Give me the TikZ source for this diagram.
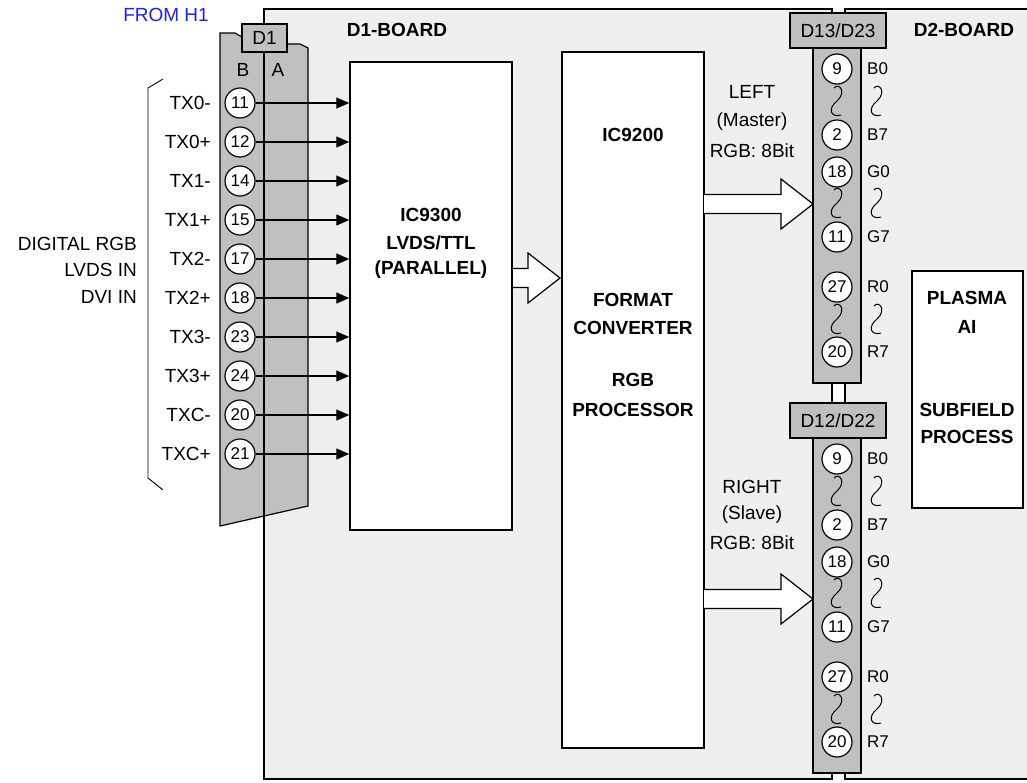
\documentclass[tikz,border=0pt]{standalone}
\usepackage{fontspec}
\setmainfont{Liberation Sans}
\usetikzlibrary{arrows.meta}
\definecolor{BoardGray}{HTML}{EFEFEF}
\definecolor{PlugGray}{HTML}{C0C0C0}
\definecolor{HOneBlue}{HTML}{1E1EFF}

% vertical wave mark between pins
\newcommand{\squig}[2]{\draw[line width=1pt] (#1-3,#2-13) .. controls (#1+2,#2-19) and (#1+10,#2-9) .. (#1,#2) .. controls (#1-10,#2+8) and (#1-6,#2+17) .. (#1+4,#2+14);}
% hollow block arrow: tail x, tip x, centre y
\newcommand{\hollowarrow}[3]{\draw[line width=1.2pt, fill=white] (#1,#3-9.5) -- (#2-32,#3-9.5) -- (#2-32,#3-25) -- (#2,#3) -- (#2-32,#3+25) -- (#2-32,#3+9.5) -- (#1,#3+9.5);}

\begin{document}
\begin{tikzpicture}[x=1pt, y=-1pt, >={Triangle[length=13pt,width=11pt]},
    txt/.style={font=\fontsize{19}{21}\selectfont, inner sep=0pt},
    btxt/.style={font=\fontsize{19}{21}\selectfont\bfseries, inner sep=0pt},
    pin/.style={circle, draw, line width=1.2pt, fill=white, minimum size=30pt, inner sep=0pt, font=\fontsize{17}{17}\selectfont},
    pinlbl/.style={font=\fontsize{17}{17}\selectfont, inner sep=0pt, anchor=west},
    chip/.style={draw, line width=1.5pt, fill=white, inner sep=0pt},
    plug/.style={draw, line width=1.2pt, fill=PlugGray}]

    \useasboundingbox (0,0) rectangle (1027,782);
    \fill[white] (0,0) rectangle (1027,782);

    % Board backgrounds
    \fill[BoardGray] (264,9) rectangle (832,779);
    \fill[BoardGray] (845,9) rectangle (1040,779);

    % D1 plug (from H1)
    \draw[plug] (220,33) -- (235,33) -- (242,37) -- (242,44) -- (300,44) -- (308,48) -- (308,506) -- (220,526) -- cycle;

    % Board outlines
    \draw[line width=2.5pt] (264,9) rectangle (832,779);
    \draw[line width=2.5pt] (1040,9) -- (845,9) -- (845,779) -- (1040,779);

    % D1 plug label and columns
    \node[plug, minimum width=45pt, minimum height=28pt, inner sep=0pt, txt] (d1box) at (264.5,38) {D1};
    \node[txt] (colB) at (243,70) {B};
    \node[txt] (colA) at (278,70) {A};
    \node[txt, text=HOneBlue] (fromh1) at (166,15) {FROM H1};

    % Board titles
    \node[btxt] (d1title) at (397,30) {D1-BOARD};
    \node[btxt] (d2title) at (964,30) {D2-BOARD};

    % Input bracket and label
    \draw[line width=0.9pt] (163,79) -- (148,88) -- (148,478) -- (163,490);
    \node[txt, anchor=east] (dig) at (137,244) {DIGITAL RGB};
    \node[txt, anchor=east] (lvds) at (137,270) {LVDS IN};
    \node[txt, anchor=east] (dvi) at (137,297) {DVI IN};

    % IC9300
    \node[chip, minimum width=162pt, minimum height=468pt] (ic93) at (431,296) {};
    \node[btxt] (ic93a) at (431,215) {IC9300};
    \node[btxt] (ic93b) at (431,243) {LVDS/TTL};
    \node[btxt] (ic93c) at (431,270) {(PARALLEL)};

    % LVDS input pins
    \foreach \n/\t [count=\i from 0] in {11/TX0-, 12/TX0+, 14/TX1-, 15/TX1+, 17/TX2-, 18/TX2+, 23/TX3-, 24/TX3+, 20/TXC-, 21/TXC+} {
        \node[pin] (inp\i) at (240,103+39*\i) {\n};
        \node[txt, anchor=east] (inl\i) at (211,103+39*\i) {\t};
        \draw[->, line width=1.2pt] (inp\i.east) -- (ic93.west |- inp\i);
    }

    % IC9200
    \node[chip, minimum width=142pt, minimum height=696pt] (ic92) at (633,400) {};
    \node[btxt] (ic92a) at (633,135) {IC9200};
    \node[btxt] (ic92b) at (633,300) {FORMAT};
    \node[btxt] (ic92c) at (633,328) {CONVERTER};
    \node[btxt] (ic92d) at (633,380) {RGB};
    \node[btxt] (ic92e) at (633,410) {PROCESSOR};

    % Block arrows
    \hollowarrow{513}{560}{278}
    \hollowarrow{704}{813}{204}
    \hollowarrow{704}{813}{599}

    % Channel labels
    \node[txt] (lefta) at (752,92) {LEFT};
    \node[txt] (leftb) at (752,122) {(Master)};
    \node[txt] (leftc) at (752,151) {RGB: 8Bit};
    \node[txt] (righta) at (752,487) {RIGHT};
    \node[txt] (rightb) at (752,515) {(Slave)};
    \node[txt] (rightc) at (752,543) {RGB: 8Bit};

    % D13/D23 connector
    \draw[plug] (813,48) rectangle (861,383);
    \node[plug, minimum width=96pt, minimum height=35pt, inner sep=0pt, txt] (d13) at (838,30.5) {D13/D23};
    \foreach \n/\y/\t in {9/69/B0, 2/135/B7, 18/172/G0, 11/237/G7, 27/287/R0, 20/352/R7} {
        \node[pin] (up\n) at (837,\y) {\n};
        \node[pinlbl] (upl\n) at (867,\y) {\t};
    }
    \foreach \y in {101,203,319} {
        \squig{837}{\y}
        \squig{877}{\y}
    }

    % D12/D22 connector
    \begin{scope}[shift={(0,390)}]
        \draw[plug] (813,48) rectangle (861,383);
        \node[plug, minimum width=96pt, minimum height=35pt, inner sep=0pt, txt] (d12) at (838,30.5) {D12/D22};
        \foreach \n/\y/\t in {9/69/B0, 2/135/B7, 18/172/G0, 11/237/G7, 27/287/R0, 20/352/R7} {
            \node[pin] (dn\n) at (837,\y) {\n};
            \node[pinlbl] (dnl\n) at (867,\y) {\t};
        }
        \foreach \y in {101,203,319} {
            \squig{837}{\y}
            \squig{877}{\y}
        }
    \end{scope}

    % Plasma AI
    \node[chip, minimum width=111pt, minimum height=237pt] (plasma) at (967.5,389.5) {};
    \node[btxt] (plasmaa) at (967,298) {PLASMA};
    \node[btxt] (plasmab) at (967,327) {AI};
    \node[btxt] (plasmac) at (967,410) {SUBFIELD};
    \node[btxt] (plasmad) at (967,437) {PROCESS};

\end{tikzpicture}
\end{document}
